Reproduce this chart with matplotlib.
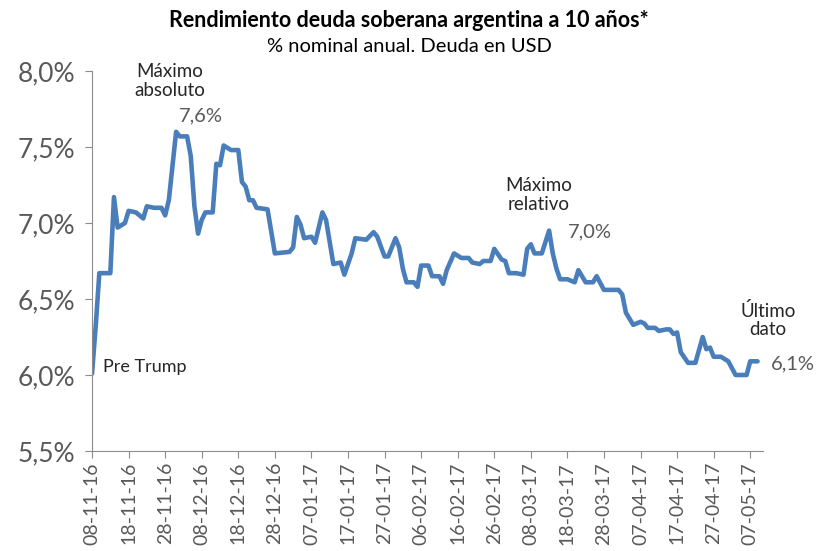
import pandas as pd
import numpy as np
import matplotlib
matplotlib.use("Agg")
import matplotlib.pyplot as plt
import matplotlib.dates as mdates

# dias desde el 08-11-16 y rendimiento (%)
dias = [0, 1, 2, 5, 6, 7, 9, 10, 12, 14, 15, 17, 19, 20, 21, 23, 24, 26, 27, 28,
        29, 30, 31, 33, 34, 35, 36, 38, 40, 41, 42, 43, 44, 45, 48, 50, 54, 55, 56, 57,
        58, 60, 61, 63, 64, 66, 68, 69, 71, 72, 75, 77, 78, 80, 81, 83, 84, 85, 86, 88,
        89, 90, 92, 93, 95, 96, 97, 99, 101, 103, 104, 106, 107, 109, 110, 112, 113, 114, 116, 118,
        119, 120, 121, 123, 125, 126, 127, 128, 130, 132, 133, 135, 137, 138, 140, 144, 145, 146, 148, 150,
        151, 152, 154, 155, 157, 158, 159, 160, 161, 163, 165, 167, 168, 169, 170, 172, 174, 176, 179, 180,
        182]
rendimiento = [6.01, 6.32, 6.67, 6.67, 7.17, 6.97, 7.00, 7.08, 7.07, 7.03, 7.11, 7.10, 7.10, 7.05, 7.15, 7.60, 7.57, 7.57, 7.44, 7.11,
               6.93, 7.02, 7.07, 7.07, 7.39, 7.38, 7.51, 7.48, 7.48, 7.27, 7.24, 7.15, 7.15, 7.10, 7.09, 6.80, 6.81, 6.84, 7.04, 6.99,
               6.90, 6.91, 6.87, 7.07, 7.02, 6.73, 6.74, 6.66, 6.80, 6.90, 6.89, 6.94, 6.91, 6.78, 6.78, 6.90, 6.84, 6.70, 6.61, 6.61,
               6.58, 6.72, 6.72, 6.65, 6.65, 6.60, 6.69, 6.80, 6.77, 6.77, 6.74, 6.73, 6.75, 6.75, 6.83, 6.76, 6.75, 6.67, 6.67, 6.66,
               6.83, 6.86, 6.80, 6.80, 6.95, 6.80, 6.70, 6.63, 6.63, 6.61, 6.69, 6.61, 6.61, 6.65, 6.56, 6.56, 6.53, 6.41, 6.33, 6.35,
               6.34, 6.31, 6.31, 6.29, 6.30, 6.30, 6.27, 6.28, 6.15, 6.08, 6.08, 6.25, 6.17, 6.18, 6.12, 6.12, 6.09, 6.00, 6.00, 6.09,
               6.09]

inicio = pd.Timestamp("2016-11-08")
fechas = inicio + pd.to_timedelta(dias, unit="D")
ticks_x = pd.date_range("2016-11-08", "2017-05-07", freq="10D")
ticks_y = [5.5, 6.0, 6.5, 7.0, 7.5, 8.0]

plt.rcParams['font.family'] = ['Lato', 'DejaVu Sans']
gris = '#595959'
eje = '#8c8c8c'

fig = plt.figure(figsize=(8.18, 5.51), dpi=100)
ax = fig.add_axes([0.1125, 0.1815, 0.8203, 0.6896])

ax.plot(fechas, rendimiento, color='#4a7ebb', lw=3.3, solid_joinstyle='round', solid_capstyle='round')

ax.set_ylim(5.5, 8.0)
ax.set_xlim(inicio, inicio + pd.Timedelta(days=183.5))
ax.set_yticks(ticks_y)
ax.set_yticklabels([f"{v:.1f}%".replace('.', ',') for v in ticks_y], fontsize=19, color=gris)
ax.set_xticks(ticks_x)
ax.xaxis.set_major_formatter(mdates.DateFormatter('%d-%m-%y'))
for lab in ax.get_xticklabels():
    lab.set_rotation(90)
    lab.set_fontsize(14)
    lab.set_color(gris)

for s in ['top', 'right']:
    ax.spines[s].set_visible(False)
for s in ['left', 'bottom']:
    ax.spines[s].set_color(eje)
ax.tick_params(axis='both', color=eje, length=5, direction='out')
ax.tick_params(axis='y', pad=7)
ax.tick_params(axis='x', pad=3)

fig.text(0.5, 0.962, "Rendimiento deuda soberana argentina a 10 años*", ha='center', va='center',
         fontsize=15.5, fontweight='bold')
fig.text(0.5, 0.916, "% nominal anual. Deuda en USD", ha='center', va='center', fontsize=14.5)

def px(x, y):
    return x / 818, 1 - y / 551

oscuro = '#262626'
fig.text(*px(170, 81), "Máximo\nabsoluto", ha='center', va='center', fontsize=13.5, color=oscuro, linespacing=1.1)
fig.text(*px(201, 116), "7,6%", ha='center', va='center', fontsize=14.5, color=gris)
fig.text(*px(103, 367), "Pre Trump", ha='left', va='center', fontsize=13, color=oscuro)
fig.text(*px(539, 195), "Máximo\nrelativo", ha='center', va='center', fontsize=13.5, color=oscuro, linespacing=1.1)
fig.text(*px(590, 232), "7,0%", ha='center', va='center', fontsize=14.5, color=gris)
fig.text(*px(768, 320), "Último\ndato", ha='center', va='center', fontsize=13.5, color=oscuro, linespacing=1.1)
fig.text(*px(793, 364), "6,1%", ha='center', va='center', fontsize=14.5, color=gris)

fig.savefig("out.png", dpi=100)
